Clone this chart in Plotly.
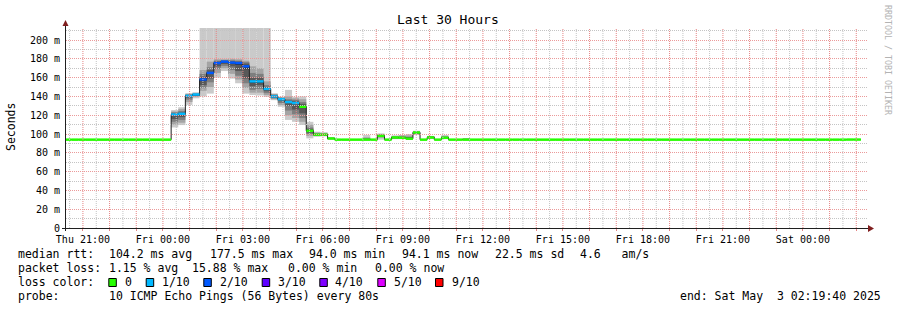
import math
import pandas as pd
import plotly.graph_objects as go

# ---------------- data ----------------
window_start = pd.Timestamp("2025-05-01 20:19:40")
window_end = pd.Timestamp("2025-05-03 02:19:40")
first_step = pd.Timestamp("2025-05-01 20:18:30")
step_minutes = 16

# median rtt per 16-minute step (ms)
median_ms = [
    94.0, 94.0, 94.0, 94.0, 94.0, 94.0, 94.0, 94.0, 94.0, 94.0,
    94.0, 94.0, 94.0, 94.0, 94.0, 120.7, 121.5, 140.5, 142.0, 158.0,
    165.0, 175.5, 177.0, 176.0, 175.5, 172.0, 156.0, 156.0, 148.0, 140.0,
    137.0, 134.0, 133.0, 129.0, 103.4, 99.3, 99.3, 95.2, 94.0, 94.0,
    94.0, 94.0, 94.0, 94.0, 98.0, 94.0, 96.3, 96.0, 95.0, 101.6,
    94.0, 96.3, 94.0, 96.0, 94.0, 94.0, 94.0, 94.0, 94.0, 94.0,
    94.0, 94.0, 94.0, 94.0, 94.0, 94.0, 94.0, 94.0, 94.0, 94.0,
    94.0, 94.0, 94.0, 94.0, 94.0, 94.0, 94.0, 94.0, 94.0, 94.0,
    94.0, 94.0, 94.0, 94.0, 94.0, 94.0, 94.0, 94.0, 94.0, 94.0,
    94.0, 94.0, 94.0, 94.0, 94.0, 94.0, 94.0, 94.0, 94.0, 94.0,
    94.0, 94.0, 94.0, 94.0, 94.0, 94.0, 94.0, 94.0, 94.0, 94.0,
    94.1, 94.1,
]

# lost pings (out of 10) per step
loss_count = [
    0, 0, 0, 0, 0, 0, 0, 0, 0, 0,
    0, 0, 0, 0, 0, 1, 1, 1, 1, 2,
    2, 2, 2, 2, 2, 2, 1, 1, 1, 1,
    1, 1, 1, 0, 0, 0, 0, 0, 0, 0,
    0, 0, 0, 0, 0, 0, 0, 0, 0, 0,
    0, 0, 0, 0, 0, 0, 0, 0, 0, 0,
    0, 0, 0, 0, 0, 0, 0, 0, 0, 0,
    0, 0, 0, 0, 0, 0, 0, 0, 0, 0,
    0, 0, 0, 0, 0, 0, 0, 0, 0, 0,
    0, 0, 0, 0, 0, 0, 0, 0, 0, 0,
    0, 0, 0, 0, 0, 0, 0, 0, 0, 0,
    0, 0,
]

# steps with visible smoke and their sorted ping times (ms)
smoke_steps = [15, 16, 17, 18, 19, 20, 21, 22, 23, 24, 25, 26, 27, 28, 29, 30,
               31, 32, 33, 34, 35, 36, 37, 42, 44, 46, 47, 48, 49, 51, 53, 56]
smoke_pings = [
    [107.0, 110.0, 113.0, 116.0, 119.5, 121.0, 122.0, 123.0, 124.0, 125.5],
    [109.5, 112.0, 115.0, 118.0, 121.0, 122.0, 123.0, 124.5, 126.5, 128.5],
    [131.0, 134.0, 136.5, 138.5, 140.0, 141.0, 141.5, 142.0, 142.5, 143.5],
    [138.0, 139.5, 140.5, 141.0, 141.5, 142.0, 142.5, 143.0, 143.5, 144.5],
    [140.0, 146.0, 149.0, 152.0, 157.0, 159.0, 161.0, 164.0, 168.0, 250.0],
    [143.0, 150.0, 155.0, 159.0, 164.0, 166.0, 168.0, 171.0, 177.0, 250.0],
    [160.0, 165.0, 169.0, 172.0, 175.0, 176.0, 177.0, 178.0, 179.5, 250.0],
    [167.0, 170.0, 172.5, 174.5, 176.5, 177.5, 178.0, 178.5, 179.5, 250.0],
    [159.0, 164.0, 168.0, 172.0, 175.5, 176.5, 177.5, 178.5, 180.0, 250.0],
    [154.0, 158.0, 162.0, 167.0, 174.0, 176.0, 177.0, 178.0, 179.5, 250.0],
    [143.0, 149.0, 154.0, 159.0, 169.0, 173.0, 175.0, 176.5, 178.0, 250.0],
    [141.5, 144.0, 147.0, 151.0, 155.0, 157.0, 160.0, 165.0, 172.0, 250.0],
    [141.0, 144.0, 148.0, 152.0, 155.0, 157.0, 160.0, 164.0, 170.0, 250.0],
    [139.5, 141.5, 143.5, 145.5, 147.5, 148.5, 150.0, 152.0, 156.0, 250.0],
    [136.0, 137.0, 138.0, 139.0, 139.8, 140.2, 141.0, 141.8, 142.5, 143.3],
    [129.0, 131.0, 133.0, 135.0, 136.5, 137.5, 138.0, 138.7, 139.2, 139.7],
    [115.0, 120.0, 125.0, 130.0, 133.5, 134.5, 135.5, 137.0, 140.0, 147.0],
    [113.0, 117.0, 121.0, 126.0, 132.0, 133.5, 135.0, 136.5, 138.0, 139.7],
    [109.6, 113.0, 117.0, 122.0, 128.0, 130.0, 132.0, 134.0, 137.0, 140.0],
    [95.4, 98.0, 100.0, 101.5, 103.0, 104.0, 105.5, 107.0, 110.0, 113.0],
    [97.1, 98.0, 98.6, 99.0, 99.2, 99.4, 99.8, 100.5, 101.5, 102.5],
    [97.5, 98.2, 98.8, 99.1, 99.3, 99.5, 99.8, 100.2, 101.0, 102.0],
    [94.5, 94.8, 95.0, 95.1, 95.2, 95.3, 95.4, 95.6, 95.8, 96.0],
    [93.8, 93.9, 94.0, 94.0, 94.0, 94.1, 94.3, 95.0, 96.5, 99.0],
    [94.0, 96.0, 97.0, 97.5, 97.9, 98.1, 98.5, 99.0, 100.0, 100.7],
    [94.5, 95.0, 95.5, 96.0, 96.2, 96.4, 96.8, 97.3, 98.0, 98.5],
    [94.5, 95.0, 95.5, 95.8, 96.0, 96.2, 96.8, 97.5, 98.5, 99.0],
    [94.0, 94.4, 94.7, 94.9, 95.0, 95.1, 95.8, 97.0, 98.5, 100.0],
    [99.0, 100.0, 100.5, 101.0, 101.5, 101.7, 102.0, 102.5, 103.0, 103.5],
    [95.0, 95.5, 95.9, 96.1, 96.3, 96.4, 96.7, 97.0, 97.5, 98.0],
    [94.5, 95.0, 95.5, 95.8, 96.0, 96.1, 96.5, 97.2, 98.0, 99.0],
    [93.9, 94.0, 94.0, 94.0, 94.0, 94.1, 94.2, 94.5, 95.0, 95.5],
]

loss_levels = [0, 1, 2, 3, 4, 5, 9]
loss_labels = ["0", "1/10", "2/10", "3/10", "4/10", "5/10", "9/10"]
loss_colors = ["#26ff00", "#00b8ff", "#0059ff", "#5e00ff", "#7e00ff", "#dd00ff", "#ff0000"]

x_tick_labels = ["Thu 21:00", "Fri 00:00", "Fri 03:00", "Fri 06:00", "Fri 09:00",
                 "Fri 12:00", "Fri 15:00", "Fri 18:00", "Fri 21:00", "Sat 00:00"]
y_tick_values = [0, 20, 40, 60, 80, 100, 120, 140, 160, 180, 200]
y_tick_labels = ["0", "20 m", "40 m", "60 m", "80 m", "100 m", "120 m", "140 m",
                 "160 m", "180 m", "200 m"]
y_max = 212.8

title_text = "Last 30 Hours"
legend_rows = [
    [("median rtt:", 16), ("104.2 ms avg", 107.3), ("177.5 ms max", 208.3),
     ("94.0 ms min", 306.7), ("94.1 ms now", 400.0), ("22.5 ms sd", 493.3),
     ("4.6   am/s", 578.3)],
    [("packet loss:", 16), ("1.15 % avg", 107.3), ("15.88 % max", 190.0),
     ("0.00 % min", 286.0), ("0.00 % now", 372.7)],
    [("loss color:", 16)],
    [("probe:", 16), ("10 ICMP Echo Pings (56 Bytes) every 80s", 107.3),
     ("end: Sat May  3 02:19:40 2025", 678.3)],
]
legend_box_x = [108.3, 145.7, 203.3, 261.7, 319.3, 377.3, 435.0]
legend_label_x = [123.3, 160.0, 217.7, 276.0, 333.3, 391.7, 450.0]

# ---------------- layout geometry ----------------
W, H = 897, 310
L, R, T, B = 65, 32, 28, 82
PW, PH = W - L - R, H - T - B
FONT = "DejaVu Sans Mono"
row_y = [253.5, 267.5, 281.5, 295.5]


def px(x):
    return (x - L) / PW


def py(y):
    return 1 - (y - T) / PH


def nb(s):
    return s.replace(" ", "\u00a0")


def snap_y(v):
    # nudge a horizontal grid value so its 1px line lands on a pixel centre
    yp = T + (y_max - v) / y_max * PH
    return y_max - (math.floor(yp) + 0.5 - T) / PH * y_max


step = pd.Timedelta(minutes=step_minutes)
step_ms = step_minutes * 60 * 1000
n = len(median_ms)
starts = [first_step + i * step for i in range(n)]
ends = [s + step for s in starts]
centers = [s + step / 2 for s in starts]

fig = go.Figure()

# smoke: 5 bands, outermost (light) to innermost (dark)
shades = ["#cacaca", "#a4a4a4", "#7e7e7e", "#585858", "#323232"]
for b, shade in enumerate(shades):
    fig.add_trace(go.Bar(
        x=[centers[k] for k in smoke_steps],
        base=[p[b] for p in smoke_pings],
        y=[p[9 - b] - p[b] for p in smoke_pings],
        width=[step_ms] * len(smoke_steps),
        marker=dict(color=shade, line=dict(width=0)),
        hoverinfo="skip", showlegend=False,
    ))

# median black line
fig.add_trace(go.Scatter(
    x=starts + [ends[-1]], y=median_ms + [median_ms[-1]],
    mode="lines", line=dict(color="#202020", width=1, shape="hv"),
    hoverinfo="skip", showlegend=False,
))


def level_of(loss):
    lvl = 0
    for i, lv in enumerate(loss_levels):
        if loss >= lv:
            lvl = i
    return lvl


for li, col in enumerate(loss_colors):
    xs, ys = [], []
    for k in range(n):
        if level_of(loss_count[k]) == li:
            xs += [starts[k], ends[k], None]
            ys += [median_ms[k], median_ms[k], None]
    if xs:
        fig.add_trace(go.Scatter(
            x=xs, y=ys, mode="lines", line=dict(color=col, width=2.5),
            hoverinfo="skip", showlegend=False, connectgaps=False,
        ))

shapes = []
# grid (drawn above data like rrdtool)
minor_col = "#c4c4c4"
major_col = "#e68585"
grid_times = pd.date_range("2025-05-01 20:30", "2025-05-03 02:00", freq="30min")
for major in (False, True):
    for t in grid_times:
        if (t.minute == 0) == major:
            shapes.append(dict(type="line", xref="x", yref="paper", x0=t, x1=t,
                               y0=0, y1=1,
                               line=dict(color=major_col if major else minor_col, width=1,
                                         dash="1px,1px")))
    for v in range(10, 220, 10):
        if v > y_max:
            continue
        if (v % 20 == 0) == major:
            vs = snap_y(v)
            shapes.append(dict(type="line", xref="paper", yref="y", x0=px(66),
                               x1=px(W - R + 2), y0=vs, y1=vs,
                               line=dict(color="#eb9a9a" if major else minor_col, width=1,
                                         dash="1px,1px")))

axis_col = "#1f1f1f"
arrow_col = "#801f1f"
# axes lines
shapes.append(dict(type="line", xref="paper", yref="paper", x0=px(62), x1=px(870),
                   y0=py(228.5), y1=py(228.5), line=dict(color=axis_col, width=1)))
shapes.append(dict(type="line", xref="paper", yref="paper", x0=px(65.5), x1=px(65.5),
                   y0=py(231), y1=py(24), line=dict(color=axis_col, width=1)))
# arrows
shapes.append(dict(type="path", xref="paper", yref="paper",
                   path=f"M {px(868)} {py(225)} L {px(874)} {py(228.5)} L {px(868)} {py(232)} Z",
                   fillcolor=arrow_col, line=dict(color=arrow_col, width=0)))
shapes.append(dict(type="path", xref="paper", yref="paper",
                   path=f"M {px(62.5)} {py(26)} L {px(65.5)} {py(20)} L {px(68.5)} {py(26)} Z",
                   fillcolor=arrow_col, line=dict(color=arrow_col, width=0)))

# legend color boxes
for bx, col in zip(legend_box_x, loss_colors):
    shapes.append(dict(type="rect", xref="paper", yref="paper",
                       x0=px(bx + 0.5), x1=px(bx + 8), y0=py(278.5), y1=py(286.5),
                       fillcolor=col, line=dict(color="black", width=1)))

annotations = []
annotations.append(dict(text=title_text, x=px(448), y=py(19), xref="paper", yref="paper",
                        showarrow=False, xanchor="center", yanchor="middle",
                        font=dict(family=FONT, size=13, color="black")))
annotations.append(dict(text="Seconds", x=px(11), y=py(127), xref="paper", yref="paper",
                        showarrow=False, xanchor="center", yanchor="middle", textangle=-90,
                        font=dict(family=FONT, size=11.5, color="black")))
annotations.append(dict(text=nb("RRDTOOL / TOBI OETIKER"), x=px(888), y=py(60),
                        xref="paper", yref="paper", showarrow=False, xanchor="center",
                        yanchor="middle", textangle=90,
                        font=dict(family=FONT, size=8.3, color="#b3b3b3")))
for r, row in enumerate(legend_rows):
    for txt, x in row:
        annotations.append(dict(text=nb(txt), x=px(x), y=py(row_y[r]), xref="paper",
                                yref="paper", showarrow=False, xanchor="left",
                                yanchor="middle",
                                font=dict(family=FONT, size=11.5, color="black")))
for lx, lab in zip(legend_label_x, loss_labels):
    annotations.append(dict(text=lab, x=px(lx), y=py(row_y[2]), xref="paper", yref="paper",
                            showarrow=False, xanchor="left", yanchor="middle",
                            font=dict(family=FONT, size=11.5, color="black")))

hour_ticks = list(pd.date_range("2025-05-01 21:00", "2025-05-03 02:00", freq="1h"))
hour_text = []
li = 0
for t in hour_ticks:
    if t.hour % 3 == 0 and li < len(x_tick_labels):
        hour_text.append(x_tick_labels[li])
        li += 1
    else:
        hour_text.append("")

fig.update_layout(
    width=W, height=H,
    margin=dict(l=L, r=R, t=T, b=B, pad=0),
    paper_bgcolor="white", plot_bgcolor="white",
    showlegend=False, barmode="overlay",
    font=dict(family=FONT, size=10, color="black"),
    shapes=shapes, annotations=annotations,
    xaxis=dict(type="date", range=[window_start, window_end], tickmode="array",
               tickvals=hour_ticks, ticktext=hour_text, ticks="outside", ticklen=2,
               tickcolor="#e68585", showgrid=False, zeroline=False,
               showline=False, tickfont=dict(family=FONT, size=10, color="black"),
               fixedrange=True),
    yaxis=dict(range=[0, y_max], tickmode="array", tickvals=y_tick_values,
               ticktext=y_tick_labels, ticks="", showgrid=False, zeroline=False,
               showline=False, tickfont=dict(family=FONT, size=10, color="black"),
               ticklabelstandoff=4, fixedrange=True),
)

fig.write_html("out.html", include_plotlyjs=True, config={"displayModeBar": False})
